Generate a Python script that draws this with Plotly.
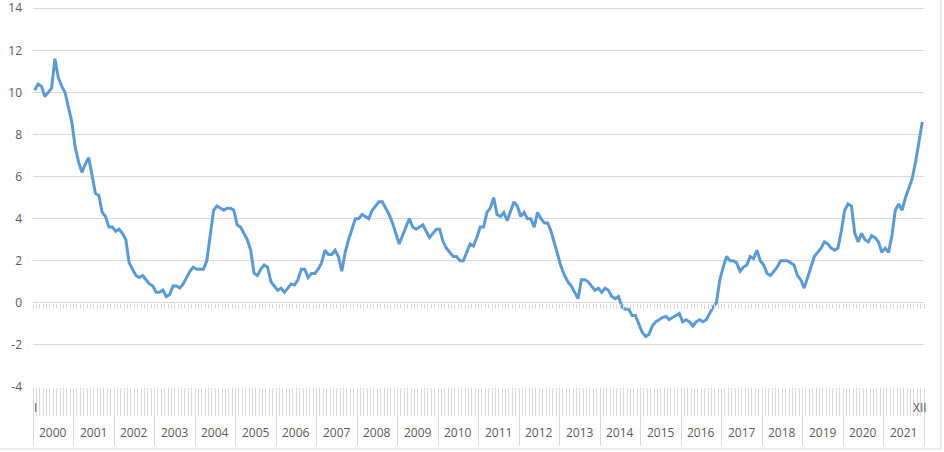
import plotly.graph_objects as go

years = [str(y) for y in range(2000, 2022)]
first_month_label = "I"
last_month_label = "XII"
y_ticks = [-4, -2, 0, 2, 4, 6, 8, 10, 12, 14]

v2000 = [10.1, 10.4, 10.3, 9.8, 10.0, 10.2, 11.6, 10.7, 10.3, 10.0, 9.3, 8.6]
v2001 = [7.4, 6.7, 6.2, 6.6, 6.9, 6.1, 5.2, 5.1, 4.3, 4.1, 3.6, 3.6]
v2002 = [3.4, 3.5, 3.3, 3.0, 1.9, 1.6, 1.3, 1.2, 1.3, 1.1, 0.9, 0.8]
v2003 = [0.5, 0.5, 0.6, 0.3, 0.4, 0.8, 0.8, 0.7, 0.9, 1.2, 1.5, 1.7]
v2004 = [1.6, 1.6, 1.6, 2.0, 3.3, 4.4, 4.6, 4.5, 4.4, 4.5, 4.5, 4.4]
v2005 = [3.7, 3.6, 3.3, 3.0, 2.5, 1.4, 1.3, 1.6, 1.8, 1.7, 1.0, 0.8]
v2006 = [0.6, 0.7, 0.5, 0.7, 0.9, 0.85, 1.1, 1.6, 1.6, 1.2, 1.4, 1.4]
v2007 = [1.6, 1.9, 2.5, 2.3, 2.3, 2.5, 2.2, 1.5, 2.4, 3.0, 3.5, 4.0]
v2008 = [4.0, 4.2, 4.1, 4.0, 4.4, 4.6, 4.8, 4.8, 4.5, 4.2, 3.8, 3.3]
v2009 = [2.8, 3.2, 3.6, 4.0, 3.6, 3.5, 3.6, 3.7, 3.4, 3.1, 3.3, 3.5]
v2010 = [3.5, 2.9, 2.6, 2.4, 2.2, 2.2, 2.0, 2.0, 2.4, 2.8, 2.7, 3.1]
v2011 = [3.6, 3.6, 4.3, 4.5, 5.0, 4.2, 4.1, 4.3, 3.9, 4.4, 4.8, 4.6]
v2012 = [4.1, 4.3, 4.0, 4.0, 3.6, 4.3, 4.0, 3.8, 3.8, 3.4, 2.8, 2.3]
v2013 = [1.7, 1.3, 1.0, 0.8, 0.5, 0.2, 1.1, 1.1, 1.0, 0.8, 0.6, 0.7]
v2014 = [0.5, 0.7, 0.6, 0.3, 0.2, 0.3, -0.2, -0.3, -0.3, -0.6, -0.6, -1.0]
v2015 = [-1.4, -1.6, -1.5, -1.1, -0.9, -0.8, -0.7, -0.65, -0.8, -0.7, -0.6, -0.5]
v2016 = [-0.9, -0.8, -0.9, -1.1, -0.9, -0.8, -0.9, -0.8, -0.5, -0.2, 0.0, 1.1]
v2017 = [1.7, 2.2, 2.0, 2.0, 1.9, 1.5, 1.7, 1.8, 2.2, 2.1, 2.5, 2.0]
v2018 = [1.8, 1.4, 1.3, 1.5, 1.7, 2.0, 2.0, 2.0, 1.9, 1.8, 1.3, 1.1]
v2019 = [0.7, 1.2, 1.8, 2.2, 2.4, 2.6, 2.9, 2.8, 2.6, 2.5, 2.6, 3.4]
v2020 = [4.4, 4.7, 4.6, 3.3, 2.9, 3.3, 3.0, 2.9, 3.2, 3.1, 2.9, 2.4]
v2021 = [2.6, 2.4, 3.2, 4.4, 4.7, 4.4, 5.0, 5.5, 5.9, 6.7, 7.7, 8.6]

series = (v2000 + v2001 + v2002 + v2003 + v2004 + v2005 + v2006 + v2007 + v2008
          + v2009 + v2010 + v2011 + v2012 + v2013 + v2014 + v2015 + v2016 + v2017
          + v2018 + v2019 + v2020 + v2021)

n = len(series)
idx = list(range(n))
month_bounds = [i - 0.5 for i in range(n + 1)]
year_bounds = [12 * k - 0.5 for k in range(len(years) + 1)]
year_centers = [12 * k + 5.5 for k in range(len(years))]

GRID = "#d9d9d9"
TXT = "#595959"
FONT = "Open Sans"
ymin, ymax = min(y_ticks), max(y_ticks)
ytop = ymax + 0.06
xr = [-0.5, n - 0.5]

fig = go.Figure()
fig.add_trace(go.Scatter(x=idx, y=series, mode="lines",
                         line=dict(color="#5b9bd5", width=3),
                         showlegend=False, hoverinfo="x+y"))
fig.add_trace(go.Scatter(x=idx, y=series, mode="lines", line=dict(width=0),
                         opacity=0, xaxis="x2", showlegend=False, hoverinfo="skip"))
fig.add_trace(go.Scatter(x=idx, y=series, mode="lines", line=dict(width=0),
                         opacity=0, xaxis="x3", showlegend=False, hoverinfo="skip"))

annotations = []
for yr, c in zip(years, year_centers):
    annotations.append(dict(x=c, y=0, xref="x", yref="paper", text=yr,
                            showarrow=False, yanchor="middle", yshift=-45,
                            font=dict(family=FONT, size=12, color=TXT)))
annotations.append(dict(x=0.3, y=0, xref="x", yref="paper", text=first_month_label,
                        showarrow=False, yanchor="middle", yshift=-20,
                        font=dict(family=FONT, size=12, color=TXT)))
annotations.append(dict(x=n - 1.8, y=0, xref="x", yref="paper", text=last_month_label,
                        showarrow=False, yanchor="middle", yshift=-20,
                        font=dict(family=FONT, size=12, color=TXT)))

W, H = 944, 452
ml, mr, mt, mb = 33, 20, 7, 65
pw, ph = W - ml - mr, H - mt - mb

fig.update_layout(
    width=W, height=H,
    margin=dict(l=ml, r=mr, t=mt, b=mb, autoexpand=False),
    paper_bgcolor="white", plot_bgcolor="white",
    font=dict(family=FONT, size=12, color=TXT),
    xaxis=dict(range=xr, tickmode="array", tickvals=month_bounds, ticks="outside",
               ticklen=28, tickwidth=1, tickcolor=GRID, showticklabels=False,
               showgrid=False, zeroline=False, showline=False, automargin=False),
    xaxis2=dict(range=xr, overlaying="x", anchor="free",
                position=(0 - ymin) / (ytop - ymin),
                tickmode="array", tickvals=month_bounds, ticks="outside",
                ticklen=5, tickwidth=1, tickcolor=GRID, showticklabels=False,
                showgrid=False, zeroline=False, showline=False, automargin=False),
    xaxis3=dict(range=xr, overlaying="x", anchor="y", side="bottom",
                tickmode="array", tickvals=year_bounds, ticks="outside",
                ticklen=58, tickwidth=1, tickcolor=GRID, showticklabels=False,
                showgrid=False, zeroline=False, showline=False, automargin=False),
    yaxis=dict(range=[ymin, ytop], tickmode="array", tickvals=y_ticks,
               ticktext=[str(t) for t in y_ticks],
               showgrid=True, gridcolor=GRID,
               gridwidth=1, zeroline=True, zerolinecolor=GRID, zerolinewidth=1,
               showline=False, ticks="", ticklabelstandoff=10, automargin=False,
               ticklabeloverflow="allow",
               tickfont=dict(family=FONT, size=12, color=TXT)),
    annotations=annotations,
    shapes=[dict(type="rect", xref="paper", yref="paper",
                 x0=-(ml + 10) / pw, x1=(941 - ml) / pw,
                 y0=-(449 - (H - mb)) / ph, y1=1 + (mt + 10) / ph,
                 line=dict(color=GRID, width=1), fillcolor="rgba(0,0,0,0)",
                 layer="below")],
)

fig.write_html("out.html", config={"displayModeBar": False},
               post_script="document.body.style.margin='0';document.body.style.overflow='hidden';")
